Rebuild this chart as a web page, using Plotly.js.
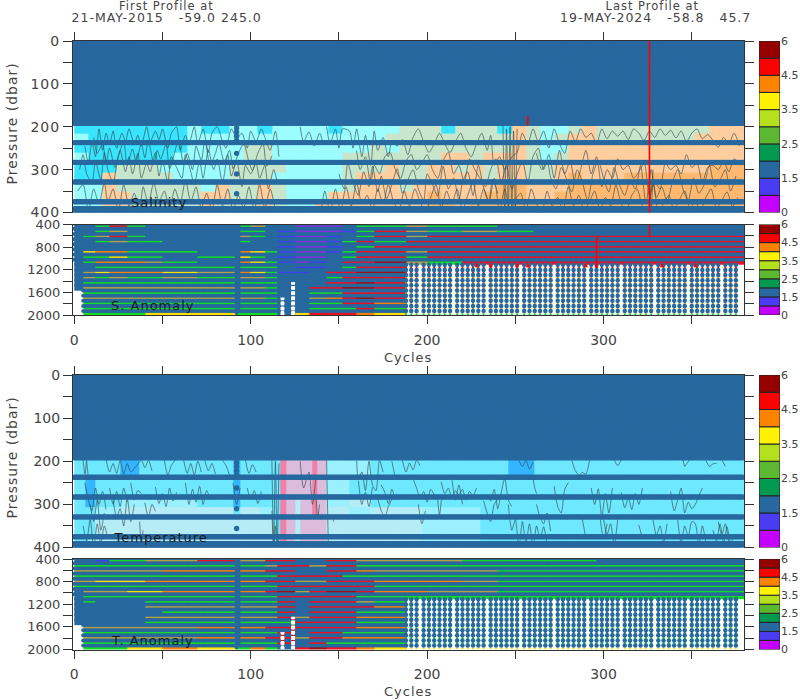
<!DOCTYPE html>
<html><head><meta charset="utf-8">
<script src="https://cdn.plot.ly/plotly-3.0.1.min.js"></script>
<style>html,body{margin:0;padding:0;background:#fff}
#chart .annotation-text{letter-spacing:1px}
#chart .xtick text,#chart .ytick text{letter-spacing:1px}
</style></head>
<body><div id="chart" style="width:800px;height:700px"></div>
<script>
var N = null;
// ---- profile cycles ----
var allCycles = [0,1,2,3,4,5,6,7,8,9,10,11,12,13,14,15,16,17,18,19,20,21,22,23,24,25,26,27,28,29,30,31,32,33,34,35,36,37,38,39,40,41,42,43,44,45,46,47,48,49,50,51,52,53,54,55,56,57,58,59,60,61,62,63,64,65,66,67,68,69,70,71,72,73,74,75,76,77,78,79,80,81,82,83,84,85,86,87,88,89,90,91,92,93,94,95,96,97,98,99,100,101,102,103,104,105,106,107,108,109,110,111,112,113,114,115,116,117,118,119,120,121,122,123,124,125,126,127,128,129,130,131,132,133,134,135,136,137,138,139,140,141,142,143,144,145,146,147,148,149,150,151,152,153,154,155,156,157,158,159,160,161,162,163,164,165,166,167,168,169,170,171,172,173,174,175,176,177,178,179,180,181,182,183,184,185,186,187,188,189,190,191,192,193,194,195,196,197,198,199,200,201,202,203,204,205,206,207,208,209,210,211,212,213,214,215,216,217,218,219,220,221,222,223,224,225,226,227,228,229,230,231,232,233,234,235,236,237,238,239,240,241,242,243,244,245,246,247,248,249,250,251,252,253,254,255,256,257,258,259,260,261,262,263,264,265,266,267,268,269,270,271,272,273,274,275,276,277,278,279,280,281,282,283,284,285,286,287,288,289,290,291,292,293,294,295,296,297,298,299,300,301,302,303,304,305,306,307,308,309,310,311,312,313,314,315,316,317,318,319,320,321,322,323,324,325,326,327,328,329,330,331,332,333,334,335,336,337,338,339,340,341,342,343,344,345,346,347,348,349,350,351,352,353,354,355,356,357,358,359,360,361,362,363,364,365,366,367,368,369,370,371,372,373,374,375,376,377,378,379];
var deepCycles = [188,191,194,198,201,204,207,210,213,217,220,223,226,229,232,236,239,242,245,248,251,255,258,261,264,267,270,274,277,280,283,286,289,293,296,299,302,305,308,312,315,318,321,324,327,331,334,337,340,343,346,350,353,356,359,362,365,369,372,375];
// ---- pressure levels ----
var upperLevels = [3,12,21,30,39,48,57,66,75,84,93,102,111,120,129,138,147,156,165,174,183,192,237,283,329,375,391,402];
var lowerLevels = [385,475,566,657,748,839,930,1021,1112,1203,1294,1385,1476,1567,1658,1749,1840,1931];
var column92Upper = [203,212,222,232,262,310,356];
var column92Lower = [430,521,612,703,794,885,976,1067,1158,1249,1340,1431,1522,1613,1704,1795,1886,1965];

// ---- colour-bar ----
var barColors = ['#c400ff','#4a3cf2','#27689f','#00994f','#5cb830','#b4e01e','#fff200','#ff8200','#ff0000','#960000'];
var barTickLabels = ['0','1.5','2.5','3.5','4.5','6'];

// ---- salinity shading ----
var salEdges = [0,8,16,24,32,40,48,56,64,72,80,88,96,104,112,120,128,136,144,152,160,168,176,184,192,200,208,216,224,232,240,248,256,264,272,280,288,296,304,312,320,328,336,344,352,360,368,376,380];
var salRowEdges = [195,216,237,260,283,306,329,352,375,391,400];
var salColors = ['#38e4ff','#9cfdff','#c8e6cc','#ffcd9e','#ffb870'];
var sal0 = [0,0,0,0,0,0,0,0,1,0,0,1,1,0,1,1,1,1,0,1,1,1,1,2,2,2,0,2,2,2,0,3,2,1,1,2,3,2,2,2,2,2,2,2,2,3,3,3];
var sal1 = [1,0,0,0,0,0,0,0,1,1,1,1,1,1,1,1,1,1,1,1,1,1,2,2,2,2,2,2,2,2,2,3,2,1,2,3,3,2,2,2,2,2,2,2,3,3,3,3];
var sal2 = [0,0,0,0,0,0,0,0,1,1,1,1,2,2,1,1,1,1,1,1,1,2,1,2,2,2,2,2,2,2,2,3,2,1,1,3,3,3,3,3,3,3,3,3,3,3,3,3];
var sal3 = [1,0,0,0,0,0,0,1,1,1,1,1,2,2,1,1,1,1,1,2,2,2,2,2,2,2,3,3,2,3,3,3,2,1,2,3,3,3,3,3,3,3,3,3,3,3,3,3];
var sal4 = [0,0,0,2,2,2,1,1,1,1,1,2,2,2,2,1,1,1,1,2,2,2,3,2,2,3,3,2,3,2,3,3,2,2,3,3,3,3,3,3,3,3,3,3,3,4,4,4];
var sal5 = [0,0,3,2,2,2,2,1,1,1,1,2,2,2,1,1,1,1,1,2,3,3,3,2,2,3,3,3,3,2,3,3,2,2,3,4,3,3,3,4,4,4,4,4,4,4,4,4];
var sal6 = [1,1,3,2,2,2,2,2,2,1,3,2,2,3,2,1,1,1,1,2,3,3,3,2,3,3,3,3,3,3,4,4,3,3,3,4,4,4,4,4,4,4,4,4,4,4,4,4];
var sal7 = [1,1,3,3,2,2,2,2,2,3,3,2,2,3,2,1,1,1,3,3,3,3,3,3,3,4,3,3,3,4,4,4,3,3,4,4,4,4,4,4,4,4,4,4,4,4,4,4];
var sal8 = [1,1,3,3,2,2,2,2,2,3,2,2,2,3,2,1,1,3,3,3,3,3,3,3,3,4,4,3,4,4,4,4,4,4,4,4,4,4,4,4,4,4,4,4,4,4,4,4];
var sal9 = [1,1,3,3,2,2,2,2,2,3,2,2,2,3,2,1,1,3,3,4,3,4,4,3,4,4,4,4,4,4,4,4,4,4,4,4,4,4,4,4,4,4,4,4,4,4,4,4];

// ---- temperature shading ----
var temEdges = [0,6,12,26,37,50,70,90,94,105,113,117,120,125,128,135,138,143,156,168,197,215,230,246,255,261,380];
var temRowEdges = [195,237,283,306,329,375,400];
var temColors = ['#33b5ff','#6ee8ff','#9af0ff','#b6ecf6','#dcbcdc','#f080a8'];
var tem0 = [1,1,1,0,1,1,1,0,1,1,1,5,4,4,4,5,4,2,2,1,1,1,1,0,0,1];
var tem1 = [1,0,1,1,1,1,1,0,1,1,1,5,4,4,4,5,4,2,1,1,1,1,1,1,1,1];
var tem2 = [1,0,1,2,2,2,1,0,1,1,1,5,4,3,4,5,4,2,3,1,1,1,1,1,1,1];
var tem3 = [1,1,2,3,3,3,3,1,3,2,1,5,4,3,4,5,4,3,2,3,2,2,1,1,1,1];
var tem4 = [1,1,3,3,3,3,3,3,3,3,1,5,4,3,4,4,4,3,3,3,2,2,1,1,1,1];
var tem5 = [1,2,3,3,3,3,3,3,3,3,1,5,4,3,4,4,4,3,3,3,2,2,1,1,1,1];

// ---- anomaly strips (class per row, per cycle segment) ----
var anomEdges = [0,5,12,20,30,40,50,70,92,94,100,108,115,125,133,143,152,160,170,188,200,220,240,260,296,326,380];
var anomRowEdges = [385,475,566,657,748,839,930,1021,1112,1203,1294,1385,1476,1567,1658,1749,1840,1931,2005];
var anomColors = ['#8a2be2','#4040f0','#27689f','#12dd22','#b8a040','#ffe000','#ff8000','#ee1020','#a01010'];
var sa0 = [2,2,3,7,3,2,2,2,2,3,4,2,2,0,0,0,2,3,3,4,3,3,2,2,2,2];
var sa1 = [2,2,3,4,2,2,2,2,2,3,3,2,1,0,0,0,1,3,7,4,3,4,3,2,2,2];
var sa2 = [2,3,4,7,3,2,2,2,2,4,3,2,1,0,0,1,2,3,7,4,7,7,7,7,7,7];
var sa3 = [2,2,3,4,3,3,2,2,2,3,2,2,1,0,0,1,3,7,3,7,7,7,7,7,7,7];
var sa4 = [2,2,2,2,2,2,2,2,2,2,2,2,1,0,0,1,2,3,7,7,7,7,7,7,7,7];
var sa5 = [2,5,6,6,3,3,3,2,2,6,5,3,1,0,0,1,3,7,7,4,7,7,7,7,7,7];
var sa6 = [2,3,3,5,3,3,2,3,2,5,3,2,1,0,0,2,3,7,7,3,7,7,7,7,7,7];
var sa7 = [2,3,6,6,6,4,3,2,2,6,5,3,1,0,1,2,7,7,8,4,3,7,7,7,7,7];
var sa8 = [2,2,3,3,3,3,3,3,2,3,3,3,2,1,1,2,3,7,7,N,N,N,N,N,N,N];
var sa9 = [2,4,5,6,6,6,5,4,2,6,5,3,1,1,2,7,7,8,8,N,N,N,N,N,N,N];
var sa10 = [2,4,3,4,3,3,4,3,2,4,4,3,2,2,2,3,7,7,7,N,N,N,N,N,N,N];
var sa11 = [2,3,3,3,3,3,3,3,2,3,3,3,2,2,2,7,7,8,7,N,N,N,N,N,N,N];
var sa12 = [2,4,4,4,4,4,4,4,2,4,4,3,2,2,7,7,8,8,7,N,N,N,N,N,N,N];
var sa13 = [N,3,3,3,3,3,3,3,2,3,3,3,2,2,3,3,7,7,7,N,N,N,N,N,N,N];
var sa14 = [N,4,4,4,4,4,4,4,2,4,4,3,2,2,4,6,7,8,7,N,N,N,N,N,N,N];
var sa15 = [N,3,3,3,3,3,3,3,2,3,3,3,2,2,3,3,7,7,6,N,N,N,N,N,N,N];
var sa16 = [N,3,3,3,3,3,3,3,2,3,3,3,2,2,3,3,3,7,3,N,N,N,N,N,N,N];
var sa17 = [N,3,3,3,3,5,5,5,3,3,3,3,2,5,7,7,7,6,5,N,N,N,N,N,N,N];

var ta0 = [2,2,1,3,3,4,4,7,2,4,4,7,7,2,2,7,7,4,4,4,4,3,3,3,2,2];
var ta1 = [3,3,3,3,3,3,3,3,2,3,3,4,7,7,4,7,7,3,3,3,3,3,3,3,3,3];
var ta2 = [4,4,4,4,4,4,6,6,2,6,6,7,7,2,2,7,7,6,4,4,4,4,3,3,3,3];
var ta3 = [3,3,3,3,3,3,3,3,2,3,3,3,7,7,7,7,3,3,3,3,3,3,3,3,3,3];
var ta4 = [4,4,5,5,5,6,6,6,2,6,6,7,7,4,4,7,7,7,6,6,6,4,3,3,3,3];
var ta5 = [3,3,3,3,3,3,3,3,2,3,3,3,7,7,7,7,7,7,3,3,3,3,3,3,3,3];
var ta6 = [2,4,4,4,5,5,6,6,2,6,6,7,8,4,7,8,8,7,6,6,4,4,3,3,3,3];
var ta7 = [2,3,3,3,3,3,3,3,2,3,3,3,7,7,7,7,7,3,3,3,3,3,3,3,3,3];
var ta8 = [2,3,2,2,2,3,3,3,2,3,3,3,7,2,7,7,7,4,3,N,N,N,N,N,N,N];
var ta9 = [2,2,2,2,2,4,4,4,2,4,4,4,7,2,7,7,7,7,6,N,N,N,N,N,N,N];
var ta10 = [2,2,2,2,2,2,3,3,2,3,3,3,7,2,7,7,7,3,3,N,N,N,N,N,N,N];
var ta11 = [2,2,2,2,2,4,4,4,2,4,4,4,7,4,7,7,7,6,6,N,N,N,N,N,N,N];
var ta12 = [2,2,2,2,2,3,3,3,2,3,3,3,3,7,7,7,7,3,3,N,N,N,N,N,N,N];
var ta13 = [N,4,4,4,4,4,4,6,2,6,6,7,7,7,7,7,7,6,6,N,N,N,N,N,N,N];
var ta14 = [N,3,3,3,3,3,3,3,2,3,3,3,7,2,7,7,3,3,3,N,N,N,N,N,N,N];
var ta15 = [N,4,4,4,4,4,4,6,2,6,6,7,7,4,7,7,6,6,6,N,N,N,N,N,N,N];
var ta16 = [N,3,3,3,3,3,3,3,2,3,3,3,7,2,7,3,3,3,3,N,N,N,N,N,N,N];
var ta17 = [N,3,3,3,5,5,6,5,3,3,6,3,2,7,8,7,7,6,5,N,N,N,N,N,N,N];

// colour of the short slits in the sparse, deep-only columns (rows 8..17)
var deepRows = [1158,1249,1340,1431,1522,1613,1704,1795,1886,1988];
var deepSalClass = [7,7,6,6,6,4,4,4,4,3];
var deepTemClass = [2,3,2,3,2,3,2,3,3,5];
var gapMarks118 = [1704,1795,1886,1965];
var gapMarks124 = [1431,1522,1613,1704,1795,1886,1965];

// ---- contours ----
var salUpC = [6,8,10,12,14,16,18,20,22,24,27,29,31,34,36,38,41,43,46,48,50,53,55,58,60,63,65,68,70,73,76,78,81,84,86,89,92,95,98,100,103,106,108,111,114,116,N,143,145,148,150,152,156,158,160,163,165,168,170,172,175,178,180,183,186,189,192,195,198,201,204,207,210,213,216,219,222,225,228,231,234,236,238,241,244,246,248,251,254,257,260,263,266,269,272,275,278,281,284,287,290,293,296,299,302,305,308,311,314,317,320,323,326,329,332,335,338,341,344,347,350,353,356,359,362,365,368,371,374,377];
var salUpP = [245,285,235,270,205,255,215,240,210,250,215,235,205,240,220,245,200,235,210,230,205,250,215,200,255,220,240,200,240,205,260,215,200,235,250,205,225,215,250,210,235,205,225,255,210,270,N,200,240,205,250,205,210,250,205,270,220,290,210,255,225,270,235,245,230,265,225,205,235,260,240,215,240,260,235,215,250,270,240,215,255,220,290,270,300,290,270,260,215,240,205,235,210,250,205,240,262,210,235,205,225,215,240,205,228,210,222,210,230,205,215,232,210,225,205,220,208,226,210,235,215,205,228,218,232,248,225,238,215,245];
var salMidC = [3,5,7,10,12,15,17,19,22,24,26,29,31,33,36,38,41,43,46,48,50,53,55,58,61,63,66,68,71,73,76,79,81,84,87,89,92,95,97,100,103,105,108,110,113,115,N,160,162,165,168,170,173,176,179,182,185,188,191,194,197,200,203,206,209,212,215,218,221,224,227,230,233,236,239,242,245,248,251,254,257,260,263,266,269,272,275,278,281,284,287,290,293,296,299,302,305,308,311,314,317,320,323,326,329,332,335,338,341,344,347,350,353,356,359,362,365,368,371,374,378];
var salMidP = [300,265,310,330,280,325,260,300,330,290,255,305,270,310,262,320,285,305,260,315,280,330,270,295,320,265,305,335,280,320,255,300,275,330,265,315,280,340,290,310,285,320,290,345,300,330,N,255,300,270,335,290,310,270,260,300,320,280,265,300,285,265,300,320,280,260,310,290,330,275,300,320,340,300,275,330,290,345,310,280,330,270,250,300,265,320,255,310,280,335,300,255,310,270,340,300,320,275,300,290,320,305,285,360,330,345,285,300,290,310,265,295,285,330,295,290,300,280,305,275,290];
var salLowC = [2,5,8,11,14,17,19,22,25,28,31,34,37,39,42,45,48,51,54,57,60,63,66,69,72,75,78,81,84,87,90,93,96,99,102,105,108,111,114,N,140,142,145,148,151,154,157,160,163,166,169,172,175,178,181,184,187,190,193,196,199,202,205,208,211,214,217,220,223,226,229,232,235,238,241,244,247,250,253,256,259,262,265,268,271,274,277,280,283,286,289,292,295,298,301,304,307,310,313,316,319,322,325,328,331,334,337,340,343,346,349,352,355,358,361,364,367,370,373,376];
var salLowP = [350,335,395,345,380,330,375,345,395,335,385,355,395,340,380,330,375,350,390,345,380,325,375,340,390,355,395,335,385,345,395,360,390,340,395,335,390,345,395,N,395,350,400,345,395,340,385,330,380,360,395,345,380,335,375,395,350,385,345,375,400,365,335,390,350,380,345,395,360,330,385,345,375,320,395,345,400,370,355,395,345,380,400,350,385,365,395,340,385,360,395,375,350,395,365,385,335,380,395,360,345,385,395,325,395,380,360,395,370,350,390,375,395,365,345,390,372,352,386,365];
var salAltC = [11,13,16,18,20,23,25,28,30,33,35,38,40,42,45,47,49,52,54,57,59,62,64,67,69,72,74,77,80,82,85,88,90,93,96,99,101,104,107,109,112,N,128,130,133,136,139,141,N,150,153,155,158,161,164,167,169,172,174,177,180,183,186,189,192,195,198,200,203,206,209,212,215,218,220,223,226,229,232,235,237,240,N,262,265,268,270,273,276,279,282,285,288,291,294,297,300,303,306,309,312,315,318,321,324,327,330,333,336,339,342,345,348,351,354,357,360,363,366,369,372,375];
var salAltP = [225,262,240,285,250,295,268,235,290,252,280,240,272,232,286,255,275,240,298,258,230,285,262,300,245,278,232,290,262,238,282,255,298,262,240,282,302,262,240,292,268,N,200,235,212,245,215,238,N,310,345,285,330,360,305,340,292,352,315,368,335,298,355,325,300,345,372,310,335,362,292,345,320,372,330,305,360,290,342,375,322,355,N,262,300,280,318,345,295,322,352,300,330,372,310,280,320,352,295,335,360,325,345,290,380,300,365,340,375,330,300,345,372,320,355,335,290,340,325,300,350,315];
var salKnotC = [243,244,245,246,247,248,249,250,251,N,326,327,328];
var salKnotP = [197,400,205,400,200,400,210,395,205,N,290,400,300];
var temUpC = [5,6,7,N,18,20,22,24,26,28,30,32,38,40,42,44,N,51,53,55,57,N,62,64,66,68,70,72,N,74,76,78,80,N,84,86,88,N,97,99,101,103,N,160,161,163,165,167,169,171,173,175,N,186,188,190,192,194,196,N,252,254,256,258,260,N,282,284,286,288,290,292,N,306,308,310,N,345,346,347,349,N,358,360,362,364,N,367,369];
var temUpP = [196,230,196,N,196,225,205,228,198,230,205,225,198,215,198,222,N,197,232,210,198,N,198,228,205,232,200,225,N,198,222,205,230,N,198,210,232,N,198,228,208,225,N,198,240,225,268,200,255,268,198,225,N,198,225,204,220,198,210,N,198,212,198,218,202,N,198,222,232,226,230,198,N,196,210,196,N,196,212,206,196,N,198,212,206,205,N,196,212];
var temMidC = [6,8,10,12,14,16,18,N,20,22,24,26,28,30,N,32,34,36,38,N,46,48,50,52,54,56,58,N,63,65,67,69,71,73,75,77,N,90,92,94,N,98,100,102,104,106,N,110,N,161,163,165,167,169,N,174,176,178,180,182,N,192,194,196,198,200,202,204,N,208,210,212,214,216,218,220,222,224,226,228,N,234,236,238,240,242,244,246,248,N,260,261,262,N,272,274,276,278,280,N,293,295,297,299,301,303,305,N,310,312,314,316,318,320,322,N,338,340,342,344,346,348,350,352,354,356];
var temMidP = [250,290,315,262,300,270,312,N,262,300,270,305,262,295,N,250,290,268,275,N,260,298,275,305,262,292,272,N,250,300,265,295,258,300,268,288,N,250,300,262,N,262,288,268,298,270,N,296,N,245,300,272,305,260,N,255,272,298,265,290,N,240,262,285,270,295,265,278,N,248,275,262,285,268,278,265,290,270,280,262,N,278,292,265,310,272,240,290,305,N,240,262,275,N,258,305,320,265,250,N,262,300,264,330,275,320,262,N,272,308,285,312,275,300,262,N,270,315,290,262,320,295,310,300,280,262];
var temLowC = [5,7,9,11,13,15,17,19,N,37,38,39,N,112,113,114,115,116,N,137,138,139,N,146,147,N,172,174,176,178,180,N,206,207,208,N,232,234,236,238,240,N,246,248,250,252,254,256,258,260,262,264,266,268,N,288,290,N,300,302,304,306,308,N,320,322,N,342,344,346,348,350,352,354,356,358,N,365,367,369,371];
var temLowP = [350,385,335,400,345,390,350,380,N,340,390,360,N,315,400,350,400,380,N,285,330,300,N,325,340,N,287,315,330,305,288,N,290,325,290,N,292,320,340,300,288,N,300,360,335,400,340,390,345,400,350,380,352,395,N,335,380,N,335,370,345,395,335,N,348,378,N,335,390,350,375,340,345,395,350,390,N,340,370,345,390];
var temAltC = [9,11,13,15,17,N,22,24,26,28,30,32,34,N,40,42,44,46,N,128,130,133,135,137,N,180,182,N,195,197,199,N,214,216,218,220,N,262,264,266,268,270,N,298,300,302,N,328,330,332,334,336,N,362,364,366,368,370,372,374];
var temAltP = [300,340,290,360,320,N,290,330,310,350,285,340,300,N,296,330,300,316,N,200,262,225,300,235,N,200,240,N,300,345,315,N,240,290,255,300,N,300,330,345,320,362,N,330,380,345,N,335,372,350,388,345,N,360,385,345,390,352,388,375];
var temKnotC = [112,113,114,115,116,N,143,144,N,7,8];
var temKnotP = [197,400,200,400,205,N,197,400,N,200,240];

// ---- flagged red marks ----
var redLineS1C = [326,326,N,257,257], redLineS1P = [0,400,N,175,197];
var redLineS2C = [326,326,N,296,296], redLineS2P = [400,620,N,620,1150];
var blipCycles = [228,236,251,257,290,296,333,352];
var blipPress  = [1130,1130,1130,1130,1130,1140,1130,1130];

// ---- text ----
var headerLeft1 = 'First Profile at';
var headerLeft2 = '21-MAY-2015\u00a0\u00a0\u00a0-59.0 245.0';
var headerRight1 = 'Last Profile at';
var headerRight2 = '19-MAY-2024\u00a0\u00a0\u00a0-58.8\u00a0\u00a0\u00a045.7';

// ---- layout helpers ----
var W = 800, H = 700;
var plotL = 73, plotR = 744, barL = 759, barR = 780;
var FONT = '"DejaVu Sans", sans-serif', INK = '#444444', DOT = '#27689f';
function vdom(t, b){ return [1 - b / H, 1 - t / H]; }
var panels = [[41,212.5],[224.5,315],[375,547.5],[559,649.5]];
var cycleTicks = [0,50,100,150,200,250,300,350];
var cycleText = ['0','','100','','200','','300',''];

function steps(colors){
  var n = colors.length, out = [];
  colors.forEach(function(c,i){ out.push([i/n,c]); out.push([(i+1)/n,c]); });
  return out;
}
function heat(xe, ye, z, colors, ax){
  return {type:'heatmap', x:xe, y:ye, z:z, zmin:-0.5, zmax:colors.length-0.5, colorscale:steps(colors),
          showscale:false, hoverinfo:'skip', zsmooth:false, xaxis:'x'+ax, yaxis:'y'+ax};
}
function contour(c, p, ax){
  return {type:'scatter', mode:'lines', x:c, y:p, line:{color:'rgba(48,72,72,0.7)', width:0.9, shape:'spline', smoothing:0.7}, hoverinfo:'skip',
          connectgaps:false, xaxis:'x'+ax, yaxis:'y'+ax};
}
function dots(xs, ys, ax, size, color, symbol){
  return {type:'scatter', mode:'markers', x:xs, y:ys, hoverinfo:'skip', cliponaxis:true,
          marker:{size:size, color:color||DOT, symbol:symbol||'circle', line:{width:0}}, xaxis:'x'+ax, yaxis:'y'+ax};
}
function redLine(c, p, ax){
  return {type:'scatter', mode:'lines', x:c, y:p, line:{color:'#ff0000', width:1.6}, hoverinfo:'skip', xaxis:'x'+ax, yaxis:'y'+ax};
}
function upperDots(){
  var xs=[], ys=[];
  upperLevels.forEach(function(p){ allCycles.forEach(function(c){ xs.push(c); ys.push(p); }); });
  column92Upper.forEach(function(p){ xs.push(92); ys.push(p); });
  return [xs,ys];
}
function lowerDense(){
  var xs=[], ys=[];
  lowerLevels.forEach(function(p,i){
    allCycles.forEach(function(c){
      if (i >= 8 && c >= 188) return;
      if (i >= 13 && c < 5) return;
      if (i >= 8 && c < 1) return;
      if (p > 1700 && c >= 117 && c <= 119) return;
      if (p > 1420 && c >= 123 && c <= 125) return;
      xs.push(c); ys.push(p);
    });
  });
  column92Lower.forEach(function(p){ xs.push(92); ys.push(p); });
  return [xs,ys];
}
function lowerDeep(){
  var xs=[], ys=[];
  lowerLevels.forEach(function(p,i){
    if (i >= 8) deepCycles.forEach(function(c){ xs.push(c); ys.push(p); });
  });
  return [xs,ys];
}
function deepSlits(classes){
  var xs=[], ys=[], cs=[];
  deepRows.forEach(function(p,i){ deepCycles.forEach(function(c){ xs.push(c); ys.push(p); cs.push(anomColors[classes[i]]); }); });
  return [xs,ys,cs];
}
function whiteGaps(ax){
  var xs=[], ys=[];
  gapMarks118.forEach(function(p){ xs.push(118); ys.push(p); });
  gapMarks124.forEach(function(p){ xs.push(124); ys.push(p); });
  return dots(xs, ys, ax, 4, '#ffffff', 'square');
}

var ud = upperDots(), ld = lowerDense(), ldd = lowerDeep();
var dsS = deepSlits(deepSalClass), dsT = deepSlits(deepTemClass);
var traces = [];
// salinity panel
traces.push(heat(salEdges, salRowEdges, [sal0,sal1,sal2,sal3,sal4,sal5,sal6,sal7,sal8,sal9], salColors, 1));
traces.push(contour(salUpC, salUpP, 1), contour(salMidC, salMidP, 1), contour(salLowC, salLowP, 1), contour(salAltC, salAltP, 1), contour(salKnotC, salKnotP, 1));
traces.push(dots(ud[0], ud[1], 1, 5.4));
traces.push(redLine(redLineS1C, redLineS1P, 1));
// salinity anomaly panel
traces.push(heat(anomEdges, anomRowEdges, [sa0,sa1,sa2,sa3,sa4,sa5,sa6,sa7,sa8,sa9,sa10,sa11,sa12,sa13,sa14,sa15,sa16,sa17], anomColors, 2));
traces.push(whiteGaps(2));
traces.push(dots(dsS[0], dsS[1], 2, 2, dsS[2], 'square'));
traces.push(dots(ld[0], ld[1], 2, 3.9));
traces.push(dots(ldd[0], ldd[1], 2, 4.5));
traces.push(redLine(redLineS2C, redLineS2P, 2));
traces.push(dots(blipCycles, blipPress, 2, 3, '#ff0000', 'square'));
// temperature panel
traces.push(heat(temEdges, temRowEdges, [tem0,tem1,tem2,tem3,tem4,tem5], temColors, 3));
traces.push(contour(temUpC, temUpP, 3), contour(temMidC, temMidP, 3), contour(temLowC, temLowP, 3), contour(temAltC, temAltP, 3), contour(temKnotC, temKnotP, 3));
traces.push(dots(ud[0], ud[1], 3, 5.4));
// temperature anomaly panel
traces.push(heat(anomEdges, anomRowEdges, [ta0,ta1,ta2,ta3,ta4,ta5,ta6,ta7,ta8,ta9,ta10,ta11,ta12,ta13,ta14,ta15,ta16,ta17], anomColors, 4));
traces.push(whiteGaps(4));
traces.push(dots(dsT[0], dsT[1], 4, 2, dsT[2], 'square'));
traces.push(dots(ld[0], ld[1], 4, 3.9));
traces.push(dots(ldd[0], ldd[1], 4, 4.5));

// colour bars
var barIdx = [0,1,2,3,4,5,6,7,8,9], barBase = barIdx, barHeight = [1,1,1,1,1,1,1,1,1,1], barX = [0,0,0,0,0,0,0,0,0,0];
[5,6,7,8].forEach(function(ax){
  traces.push({type:'bar', x:barX, y:barHeight, base:barBase, width:1, hoverinfo:'skip',
    marker:{color:barColors, line:{color:'#222', width:1}}, xaxis:'x'+ax, yaxis:'y'+ax});
});

var layout = {
  width:W, height:H, margin:{l:0,r:0,t:0,b:0}, paper_bgcolor:'#fff', plot_bgcolor:'#fff',
  showlegend:false, barmode:'overlay', font:{family:FONT, color:INK, size:14}, annotations:[]
};
var xdom = [plotL/W, plotR/W];
var xr = [-0.74, 379.6];
panels.forEach(function(pp,i){
  var k = i+1, up = (i % 2 === 0);
  layout['xaxis'+k] = {domain:xdom, range:xr, anchor:'y'+k, side: up ? 'top':'bottom',
    tickmode:'array', tickvals:cycleTicks, ticktext: up ? cycleTicks.map(function(){return '';}) : cycleText,
    ticks:'outside', ticklen:8, tickwidth:1, tickcolor:'#333', showgrid:false, zeroline:false,
    showline:true, linecolor:'#333', linewidth:1, mirror: up ? false : true, ticklabelstandoff:4,
    tickfont:{family:FONT, size:14, color:INK}};
  var yv = up ? [0,50,100,150,200,250,300,350,400] : [400,600,800,1000,1200,1400,1600,1800,2000];
  var yt = up ? ['0','','100','','200','','300','','400'] : ['400','','800','','1200','','1600','','2000'];
  layout['yaxis'+k] = {domain:vdom(pp[0],pp[1]), range: up ? [400,0] : [2000,400], anchor:'x'+k,
    tickmode:'array', tickvals:yv, ticktext:yt, ticks:'outside', ticklen:9, tickwidth:1, tickcolor:'#333',
    showgrid:false, zeroline:false, showline:true, linecolor:'#333', linewidth:1, mirror:'ticks',
    tickfont:{family:FONT, size: up ? 14 : 13, color:INK}};
  var b = i+5;
  layout['xaxis'+b] = {domain:[barL/W, barR/W], range:[-0.5,0.5], anchor:'y'+b, visible:false, fixedrange:true};
  layout['yaxis'+b] = {domain:vdom(pp[0],pp[1]), range:[0,10], anchor:'x'+b, side:'right',
    tickmode:'array', tickvals:[0,2,4,6,8,10], ticktext:barTickLabels, ticks:'', showgrid:false, zeroline:false,
    showline:false, tickfont:{family:FONT, size:11, color:INK}};
});
function note(txt, px, py, size, extra){
  var a = {text:txt, xref:'paper', yref:'paper', x:px/W, y:1-py/H, showarrow:false, xanchor:'center', yanchor:'middle',
           font:{family:FONT, size:size, color:INK}};
  if (extra) for (var k in extra) a[k]=extra[k];
  layout.annotations.push(a);
}
note(headerLeft1, 166, 6, 11.5);
note(headerLeft2, 166, 18, 12.5);
note(headerRight1, 652, 6, 11.5);
note(headerRight2, 655, 18, 12.5);
note('Pressure (dbar)', 12, 124, 14, {textangle:-90});
note('Pressure (dbar)', 12, 458, 14, {textangle:-90});
note('Cycles', 408, 357, 13);
note('Cycles', 408, 691, 13);
var dark = {font:{family:FONT, size:13, color:'#1a1a1a'}};
note('Salinity', 159, 202, 13, dark);
note('S. Anomaly', 153, 305, 13, dark);
note('Temperature', 160, 537, 13, dark);
note('T. Anomaly', 152, 640, 13, dark);

Plotly.newPlot('chart', traces, layout, {staticPlot:true, displayModeBar:false});
</script></body></html>
